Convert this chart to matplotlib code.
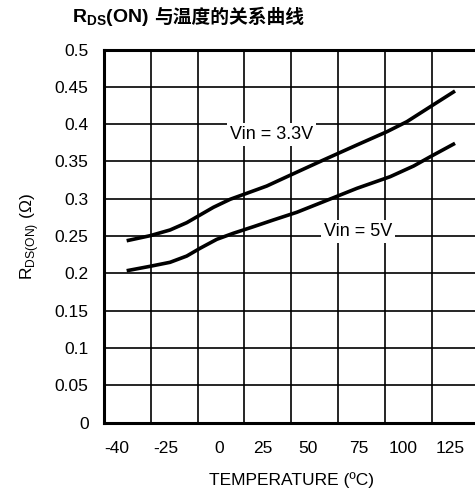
import matplotlib.pyplot as plt
import numpy as np

# Vin = 3.3V curve (temperature in C, resistance in ohm)
temp_33 = [-40, -28.3, -18.2, -9.8, -3.1, 3.6, 12.0, 20.4, 30.4,
           42.1, 58.9, 75.7, 90.8, 100.8, 112.6, 125]
rds_33 = [0.2438, 0.2505, 0.2582, 0.2680, 0.2783, 0.2886, 0.2993, 0.3074,
          0.3171, 0.3315, 0.3520, 0.3721, 0.3899, 0.4033, 0.4234, 0.4444]

# Vin = 5V curve
temp_5 = [-40, -28.3, -18.2, -9.8, -3.1, 5.3, 13.6, 23.7, 33.7, 45.5,
          58.9, 75.7, 92.4, 104.2, 112.6, 125]
rds_5 = [0.2036, 0.2095, 0.2149, 0.2233, 0.2337, 0.2457, 0.2538, 0.2626,
         0.2716, 0.2819, 0.2961, 0.3140, 0.3296, 0.3439, 0.3564, 0.3743]

x_labels = ["-40", "-25", "0", "25", "50", "75", "100", "125"]
y_ticks = [0, 0.05, 0.1, 0.15, 0.2, 0.25, 0.3, 0.35, 0.4, 0.45, 0.5]
y_labels = ["0", "0.05", "0.1", "0.15", "0.2", "0.25", "0.3", "0.35",
            "0.4", "0.45", "0.5"]


def main():
    plt.rcParams["font.family"] = ["Liberation Sans", "Noto Sans CJK SC"]
    plt.rcParams["mathtext.fontset"] = "custom"
    plt.rcParams["mathtext.rm"] = "Liberation Sans"
    plt.rcParams["mathtext.bf"] = "Liberation Sans:bold"

    fig = plt.figure(figsize=(4.75, 4.98), dpi=100)
    ax = fig.add_axes([0.2189, 0.1512, 0.7885, 0.7494])

    # axis is cut on the right side, like the datasheet scan
    x0, x1 = -51.4, 136.8
    ax.set_xlim(x0, x1)
    ax.set_ylim(0, 0.5)

    # vertical grid: 8 equal columns
    ax.set_xticks(np.linspace(x0, x1, 9)[1:-1], minor=True)
    ax.set_yticks(y_ticks, y_labels)
    ax.grid(True, which="minor", axis="x", color="black", lw=1.2)
    ax.grid(True, which="major", axis="y", color="black", lw=1.2)

    # tick labels sit inside the columns, not on the lines
    cols = [0.28, 1.32, 2.46, 3.40, 4.35, 5.45, 6.39, 7.39]
    ax.set_xticks([x0 + c * (x1 - x0) / 8 for c in cols], x_labels)
    ax.tick_params(axis="both", which="both", length=0, labelsize=12.5)
    ax.tick_params(axis="x", pad=13)
    ax.tick_params(axis="y", pad=11)

    for side in ["left", "bottom", "top"]:
        ax.spines[side].set_linewidth(2.2)
    ax.spines["right"].set_visible(False)

    ax.plot(temp_33, rds_33, color="black", lw=2.6, solid_capstyle="butt")
    ax.plot(temp_5, rds_5, color="black", lw=2.6, solid_capstyle="butt")

    box = dict(facecolor="white", edgecolor="none", pad=2)
    ax.text(32.9, 0.3864, "Vin = 3.3V", fontsize=13, ha="center",
            va="center", bbox=box)
    ax.text(76.3, 0.2559, "Vin = 5V", fontsize=13, ha="center",
            va="center", bbox=box)

    ax.set_xlabel("TEMPERATURE (ºC)", fontsize=12.5, labelpad=12)
    ax.set_ylabel(r"R$_{\mathrm{DS(ON)}}$ (Ω)", fontsize=12.5, labelpad=10)

    # title in two parts: mathtext cannot fall back to the CJK font
    t1 = fig.text(0.151, 0.965, r"R$_{\mathbf{DS}}$(ON)",
                  fontsize=14, fontweight="bold", ha="left", va="center")
    ax.annotate("与温度的关系曲线", xy=(1, 0.5), xycoords=t1,
                xytext=(4, 0), textcoords="offset points",
                fontsize=13.5, fontweight="bold", ha="left", va="center",
                family=["Noto Sans CJK SC"])

    fig.savefig("out.png", dpi=100)


if __name__ == "__main__":
    main()
